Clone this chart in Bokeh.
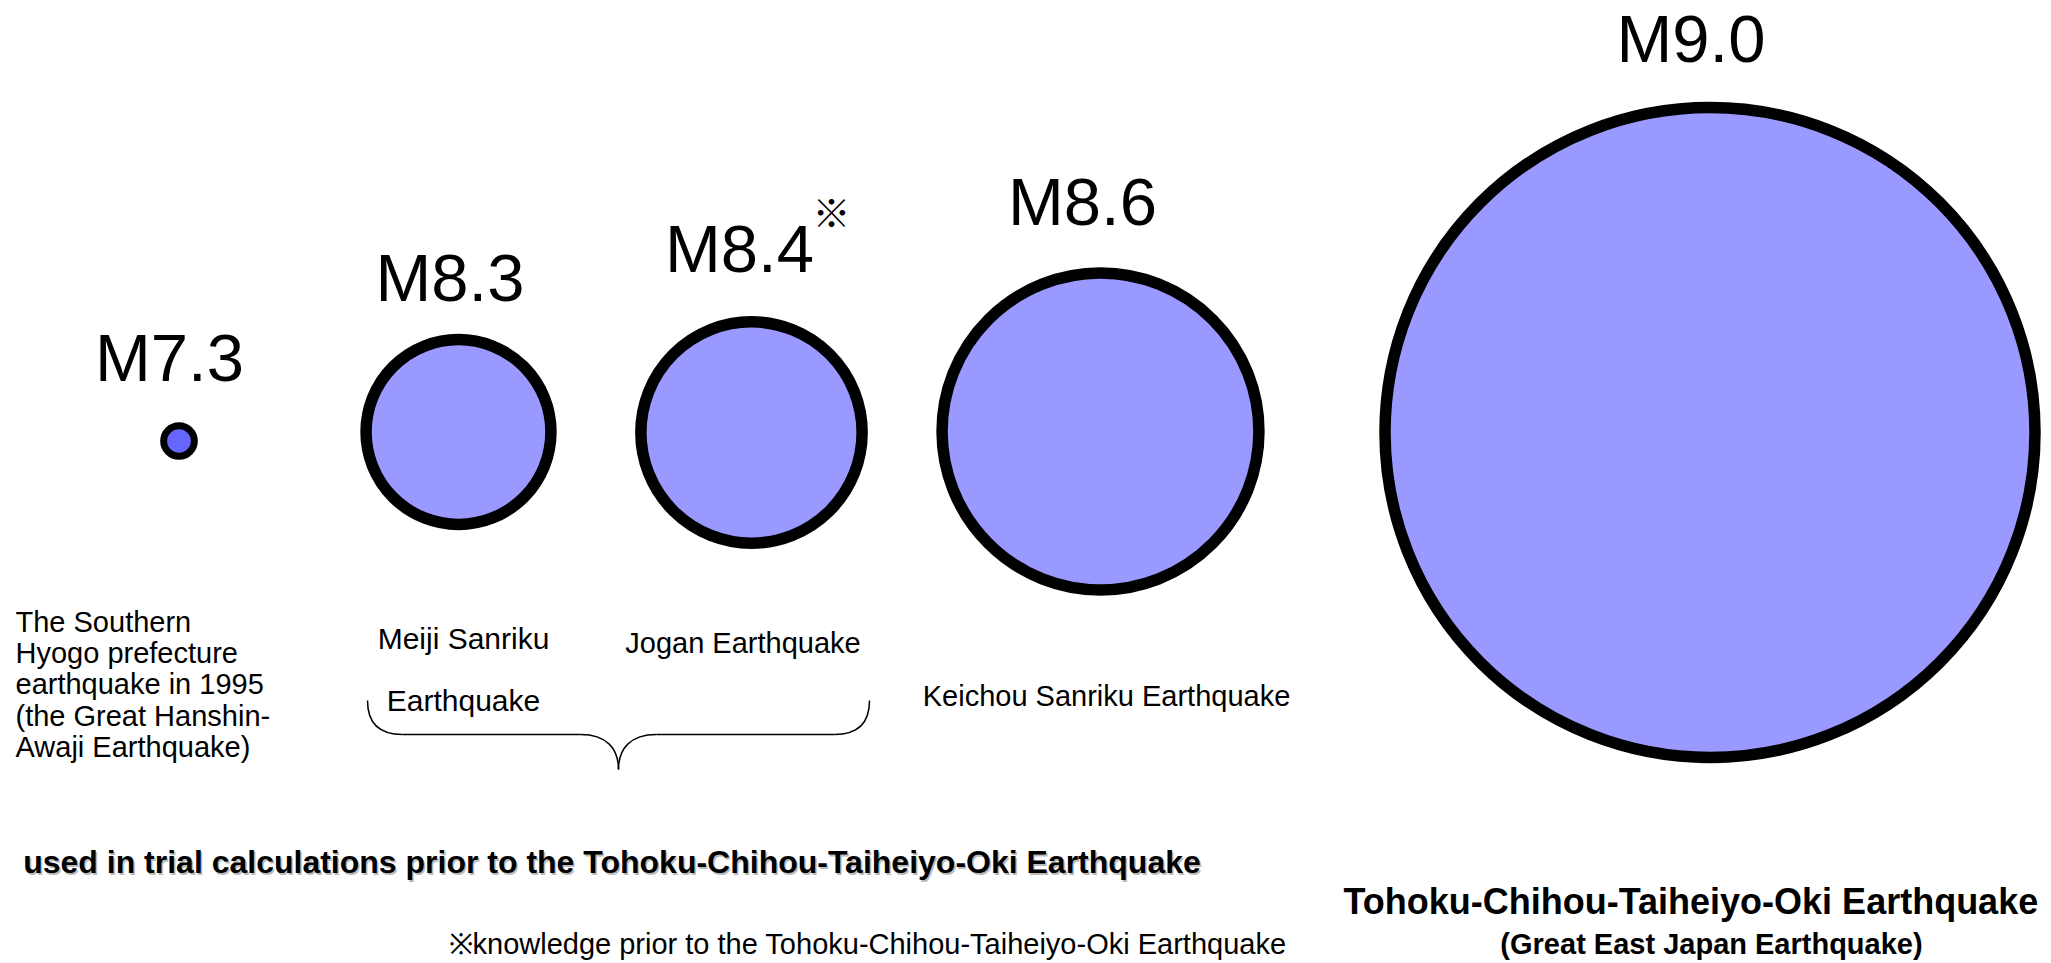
from bokeh.plotting import figure
from bokeh.models import Range1d
from bokeh.core.properties import value
from bokeh.embed import file_html
from bokeh.resources import INLINE

# ---- data -------------------------------------------------------------
magnitudes = [7.3, 8.3, 8.4, 8.6, 9.0]
prior_estimate = [False, False, True, False, False]  # marked with ※

hyogo_name = ["The Southern", "Hyogo prefecture", "earthquake in 1995",
              "(the Great Hanshin-", "Awaji Earthquake)"]
meiji_name = ["Meiji Sanriku", "Earthquake"]
jogan_name = ["Jogan Earthquake"]
keichou_name = ["Keichou Sanriku Earthquake"]
tohoku_name = "Tohoku-Chihou-Taiheiyo-Oki Earthquake"
tohoku_alias = "(Great East Japan Earthquake)"
group_caption = "used in trial calculations prior to the Tohoku-Chihou-Taiheiyo-Oki Earthquake"
footnote = "※knowledge prior to the Tohoku-Chihou-Taiheiyo-Oki Earthquake"

# ---- layout (pixel space, y grows downward) ---------------------------
W, H = 2051, 963
FONT = "Liberation Sans"
MID = 0.35             # baseline-to-middle distance, in em
center_x = [178.5, 458, 751, 1100, 1709.5]
center_y = [440.5, 431.5, 432, 431, 432]
label_dx = [-9.5, -8.5, -12, -18, -19]
label_gap = [41, 33, 44, 42, 39.5]
R_MAX = 325.0          # stroke radius of the largest circle
RADIUS_EXP = 0.78      # radius grows as 10**(RADIUS_EXP * M)
stroke = [7, 11.5, 11.5, 11.5, 11.5]
fill = ["#6666FF", "#9999FF", "#9999FF", "#9999FF", "#9999FF"]
LABEL_PX = 67

m_top = max(magnitudes)
radii = [R_MAX * 10 ** (RADIUS_EXP * (m - m_top)) for m in magnitudes]

p = figure(width=W, height=H, output_backend="svg", toolbar_location=None,
           x_range=Range1d(0, W), y_range=Range1d(H, 0),
           x_axis_type=None, y_axis_type=None, min_border=0,
           outline_line_color=None, background_fill_color="white",
           border_fill_color="white")
p.grid.visible = False


def text_at(xs, baselines, texts, px, align="center", style="normal",
            color="black", alpha=1.0, font=FONT):
    """Place texts so that their alphabetic baseline sits at the given y."""
    p.text(x=xs, y=[b - MID * px for b in baselines], text=texts,
           text_align=align, text_baseline="middle",
           text_font=value(font), text_font_size=f"{px}px",
           text_font_style=style, text_color=color, text_alpha=alpha)


# circles, area scaled from magnitude
p.circle(x=center_x, y=center_y, radius=radii, fill_color=fill,
         line_color="black", line_width=stroke)

# magnitude labels above each circle
lab_x = [cx + dx for cx, dx in zip(center_x, label_dx)]
lab_b = [cy - r - w / 2 - g
         for cy, r, w, g in zip(center_y, radii, stroke, label_gap)]
text_at(lab_x, lab_b, [f"M{m:.1f}" for m in magnitudes], LABEL_PX)

# reference mark for the pre-2011 estimate
for i, flag in enumerate(prior_estimate):
    if flag:
        p.text(x=[lab_x[i] + 92], y=[lab_b[i] - 62], text=["※"],
               text_align="center", text_baseline="middle",
               text_font=value("Noto Sans CJK JP"), text_font_size="38px",
               text_color="black")


def draw_lines(lines, x, y0, step, px, align="center", style="normal"):
    text_at([x] * len(lines), [y0 + k * step for k in range(len(lines))],
            lines, px, align=align, style=style)


draw_lines(hyogo_name, 15, 631.5, 31.3, 29, align="left")
draw_lines(meiji_name, 463, 648, 62, 30)
draw_lines(jogan_name, 742.5, 653, 0, 29)
draw_lines(keichou_name, 1106, 706, 0, 29)
draw_lines([tohoku_name], 1343, 914, 0, 36, align="left", style="bold")
draw_lines([tohoku_alias], 1711, 954, 0, 29, style="bold")

# brace grouping the two trial-calculation earthquakes
bl, br, bm = 367, 869, 618
b_top, b_bar, b_tip = 700, 734, 769
p.bezier(x0=[bl, bm - 38, bm, br - 35],
         y0=[b_top, b_bar, b_tip, b_bar],
         x1=[bl + 35, bm, bm + 38, br],
         y1=[b_bar, b_tip, b_bar, b_top],
         cx0=[bl, bm - 12, bm, br - 11],
         cy0=[b_top + 22, b_bar, b_tip - 21, b_bar],
         cx1=[bl + 11, bm, bm + 12, br],
         cy1=[b_bar, b_tip - 21, b_bar, b_top + 22],
         line_color="black", line_width=1.5)
p.segment(x0=[bl + 35, bm + 38], y0=[b_bar, b_bar],
          x1=[bm - 38, br - 35], y1=[b_bar, b_bar],
          line_color="black", line_width=1.5)

# caption with a soft drop shadow
text_at([24.2], [874.5], [group_caption], 32, align="left", style="bold",
        color="#777777", alpha=0.5)
text_at([22.7], [873], [group_caption], 32, align="left", style="bold")

text_at([448], [954], [footnote], 29, align="left")

open("out.html", "w").write(file_html(p, INLINE))
